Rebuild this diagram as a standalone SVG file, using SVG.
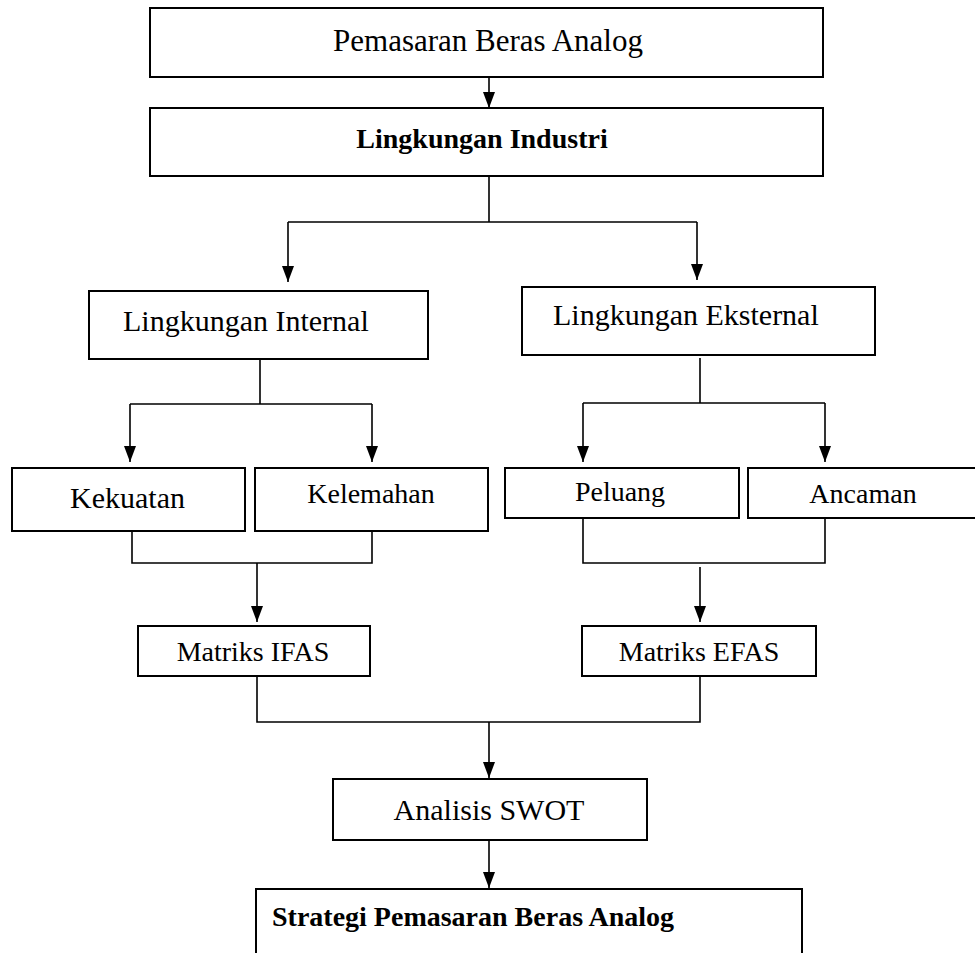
<svg xmlns="http://www.w3.org/2000/svg" width="975" height="953" viewBox="0 0 975 953">
<style>
.box{fill:#fff;stroke:#000;stroke-width:2}
.t{font-family:"Liberation Serif","Times New Roman",serif;fill:#000}
.b{font-weight:bold}
.c{text-anchor:middle}
.ln{fill:none;stroke:#000;stroke-width:1.6}
</style>
<defs>
<marker id="ah" viewBox="0 0 16 12" refX="16" refY="6" markerWidth="16" markerHeight="12" markerUnits="userSpaceOnUse" orient="auto">
<path d="M0,0 L16,6 L0,12 z" fill="#000"/>
</marker>
</defs>
<rect width="975" height="953" fill="#fff"/>
<g id="connectors">
<path class="ln" d="M489,77 V108" marker-end="url(#ah)"/>
<path class="ln" d="M489,176 V222 M288,222 H697"/>
<path class="ln" d="M288,222 V282" marker-end="url(#ah)"/>
<path class="ln" d="M697,222 V280" marker-end="url(#ah)"/>
<path class="ln" d="M260,359 V404 M130,404 H372"/>
<path class="ln" d="M130,404 V462" marker-end="url(#ah)"/>
<path class="ln" d="M372,404 V462" marker-end="url(#ah)"/>
<path class="ln" d="M700,358 V403 M583,403 H825"/>
<path class="ln" d="M583,403 V462" marker-end="url(#ah)"/>
<path class="ln" d="M825,403 V462" marker-end="url(#ah)"/>
<path class="ln" d="M132,531 V563 H372 V531"/>
<path class="ln" d="M257,563 V622" marker-end="url(#ah)"/>
<path class="ln" d="M583,518 V563 H825 V518"/>
<path class="ln" d="M700,567 V622" marker-end="url(#ah)"/>
<path class="ln" d="M257,676 V722 H700 V676"/>
<path class="ln" d="M489,722 V778" marker-end="url(#ah)"/>
<path class="ln" d="M489,840 V888" marker-end="url(#ah)"/>
</g>
<g id="n-pemasaran">
<rect class="box" x="150" y="8" width="673" height="69"/>
<text class="t c" x="488" y="51" font-size="31">Pemasaran Beras Analog</text>
</g>
<g id="n-industri">
<rect class="box" x="150" y="108" width="673" height="68"/>
<text class="t b c" x="482" y="148" font-size="28">Lingkungan Industri</text>
</g>
<g id="n-internal">
<rect class="box" x="89" y="291" width="339" height="68"/>
<text class="t" x="123" y="331" font-size="30">Lingkungan Internal</text>
</g>
<g id="n-eksternal">
<rect class="box" x="522" y="287" width="353" height="68"/>
<text class="t" x="553" y="325" font-size="30">Lingkungan Eksternal</text>
</g>
<g id="n-kekuatan">
<rect class="box" x="12" y="468" width="233" height="63"/>
<text class="t" x="70" y="508" font-size="30">Kekuatan</text>
</g>
<g id="n-kelemahan">
<rect class="box" x="255" y="468" width="233" height="63"/>
<text class="t c" x="371" y="503" font-size="28">Kelemahan</text>
</g>
<g id="n-peluang">
<rect class="box" x="505" y="468" width="234" height="50"/>
<text class="t c" x="620" y="501" font-size="28">Peluang</text>
</g>
<g id="n-ancaman">
<rect class="box" x="748" y="468" width="240" height="50"/>
<text class="t c" x="863" y="503" font-size="28">Ancaman</text>
</g>
<g id="n-ifas">
<rect class="box" x="138" y="626" width="232" height="50"/>
<text class="t c" x="253" y="661" font-size="28">Matriks IFAS</text>
</g>
<g id="n-efas">
<rect class="box" x="582" y="626" width="234" height="50"/>
<text class="t c" x="699" y="661" font-size="28">Matriks EFAS</text>
</g>
<g id="n-swot">
<rect class="box" x="333" y="779" width="314" height="61"/>
<text class="t c" x="489" y="820" font-size="30">Analisis SWOT</text>
</g>
<g id="n-strategi">
<rect class="box" x="256" y="889" width="546" height="100"/>
<text class="t b" x="272" y="926" font-size="28">Strategi Pemasaran Beras Analog</text>
</g>
</svg>
